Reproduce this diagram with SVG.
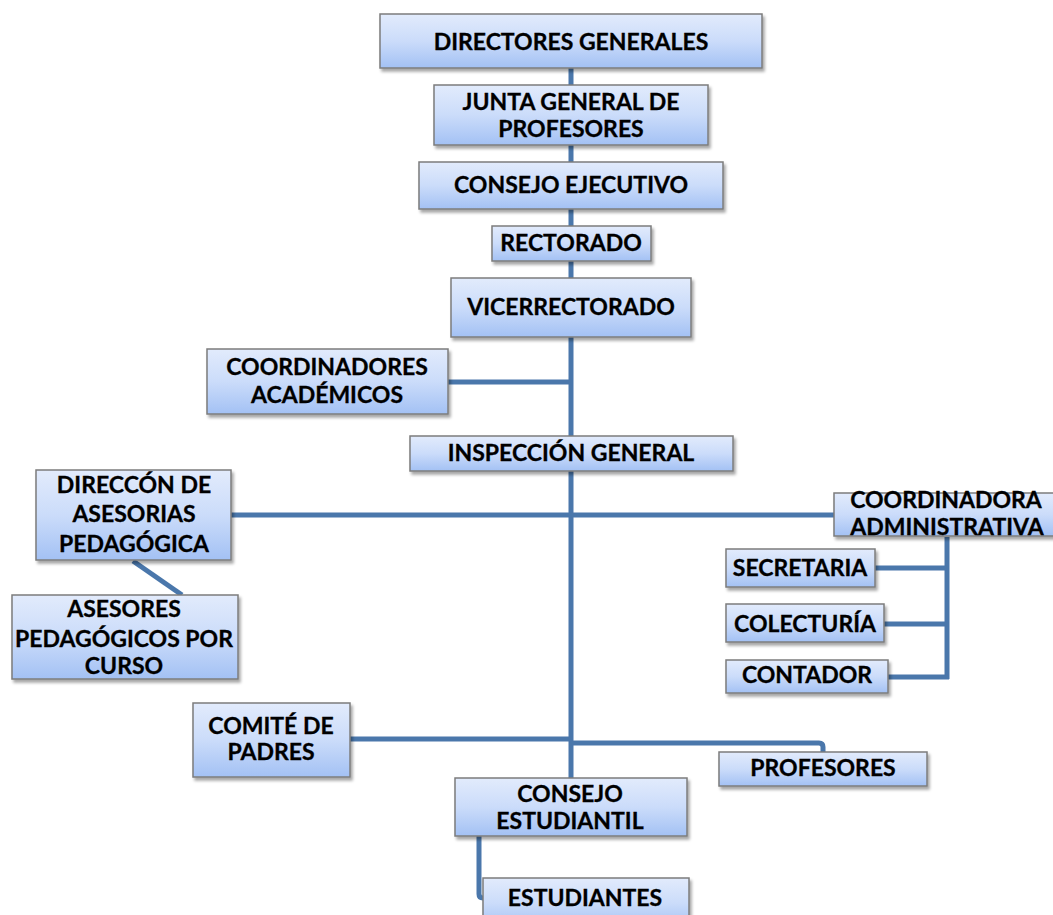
<svg xmlns="http://www.w3.org/2000/svg" width="1053" height="915" viewBox="0 0 1053 915">
<defs>
<linearGradient id="g" x1="0" y1="0" x2="0" y2="1">
<stop offset="0" stop-color="#e2ebfc"/>
<stop offset="0.5" stop-color="#cbdcfa"/>
<stop offset="1" stop-color="#a3c1f4"/>
</linearGradient>
<filter id="sh" x="-10%" y="-20%" width="125%" height="150%">
<feDropShadow dx="2" dy="3" stdDeviation="1.8" flood-color="#000" flood-opacity="0.35"/>
</filter>
</defs>
<style>
.b{fill:url(#g);stroke:#7c7c7c;stroke-width:1.5;filter:url(#sh)}
.t{font-family:Lato,"Liberation Sans",sans-serif;font-weight:bold;font-size:23px;fill:#000;text-anchor:middle;stroke:#000;stroke-width:0.3}
.c{fill:none;stroke:#4a77ab;stroke-width:5;stroke-linejoin:round}
</style>
<rect width="1053" height="915" fill="#fff"/>
<g id="connectors">
<path class="c" d="M571,68V778"/>
<path class="c" d="M448,382H571"/>
<path class="c" d="M231,515H834"/>
<path class="c" d="M133,561L182,595"/>
<path class="c" d="M947,537V679"/>
<path class="c" d="M875,568H947"/>
<path class="c" d="M884,624H947"/>
<path class="c" d="M888,677H949"/>
<path class="c" d="M350,739H571"/>
<path class="c" d="M571,743H819Q823,743 823,747V752"/>
<path class="c" d="M479,836V894Q479,898 483,898H485"/>
</g>
<g id="n-directores"><rect class="b" x="380" y="14" width="382" height="54"/><text class="t" x="571" y="50">DIRECTORES GENERALES</text></g>
<g id="n-junta"><rect class="b" x="434" y="85" width="274" height="60"/><text class="t" x="571" y="110">JUNTA GENERAL DE</text><text class="t" x="571" y="137">PROFESORES</text></g>
<g id="n-consejo-ejecutivo"><rect class="b" x="419" y="162" width="304" height="47"/><text class="t" x="571" y="193">CONSEJO EJECUTIVO</text></g>
<g id="n-rectorado"><rect class="b" x="492" y="226" width="159" height="35"/><text class="t" x="571" y="251">RECTORADO</text></g>
<g id="n-vicerrectorado"><rect class="b" x="451" y="278" width="240" height="59"/><text class="t" x="571" y="315">VICERRECTORADO</text></g>
<g id="n-coordinadores"><rect class="b" x="207" y="349" width="241" height="65"/><text class="t" x="327" y="375">COORDINADORES</text><text class="t" x="327" y="403">ACADÉMICOS</text></g>
<g id="n-inspeccion"><rect class="b" x="410" y="436" width="323" height="35"/><text class="t" x="571" y="461">INSPECCIÓN GENERAL</text></g>
<g id="n-direccion"><rect class="b" x="36" y="470" width="195" height="90"/><text class="t" x="134" y="493">DIRECCÓN DE</text><text class="t" x="134" y="522">ASESORIAS</text><text class="t" x="134" y="552">PEDAGÓGICA</text></g>
<g id="n-asesores"><rect class="b" x="12" y="595" width="226" height="84"/><text class="t" x="124" y="617">ASESORES</text><text class="t" x="124" y="647">PEDAGÓGICOS POR</text><text class="t" x="124" y="674">CURSO</text></g>
<g id="n-coordinadora"><rect class="b" x="834" y="493" width="230" height="43"/><text class="t" x="946" y="508">COORDINADORA</text><text class="t" x="947" y="535">ADMINISTRATIVA</text></g>
<g id="n-secretaria"><rect class="b" x="726" y="549" width="149" height="38"/><text class="t" x="800" y="576">SECRETARIA</text></g>
<g id="n-colecturia"><rect class="b" x="726" y="604" width="158" height="38"/><text class="t" x="805" y="632">COLECTURÍA</text></g>
<g id="n-contador"><rect class="b" x="726" y="660" width="162" height="33"/><text class="t" x="807" y="683">CONTADOR</text></g>
<g id="n-comite"><rect class="b" x="193" y="703" width="157" height="74"/><text class="t" x="271" y="734">COMITÉ DE</text><text class="t" x="271" y="760">PADRES</text></g>
<g id="n-profesores"><rect class="b" x="719" y="752" width="208" height="34"/><text class="t" x="823" y="776">PROFESORES</text></g>
<g id="n-consejo-estudiantil"><rect class="b" x="455" y="778" width="232" height="58"/><text class="t" x="570" y="802">CONSEJO</text><text class="t" x="570" y="829">ESTUDIANTIL</text></g>
<g id="n-estudiantes"><rect class="b" x="483" y="878" width="206" height="50"/><text class="t" x="585" y="906">ESTUDIANTES</text></g>
</svg>
